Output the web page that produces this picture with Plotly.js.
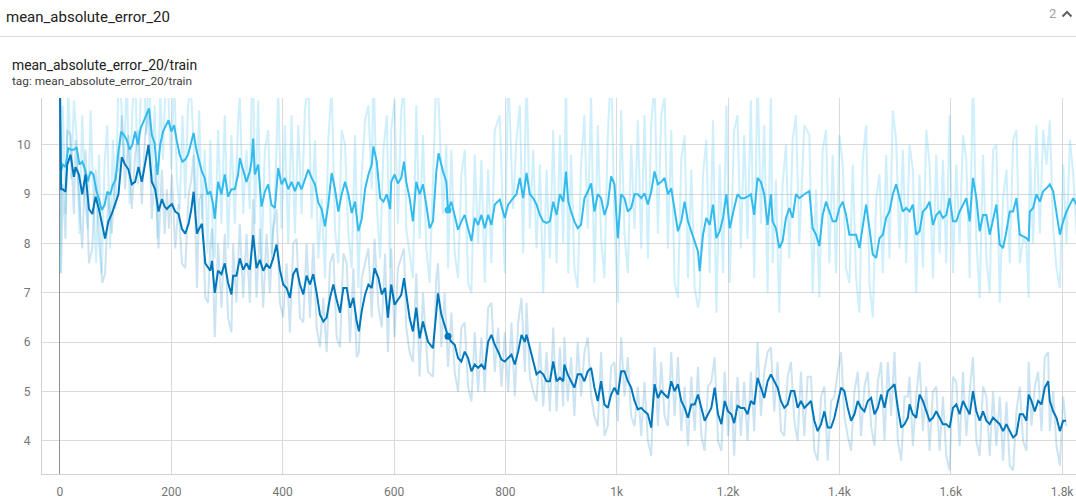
<!DOCTYPE html>
<html>
<head>
<meta charset="utf-8">
<script src="https://cdn.plot.ly/plotly-3.0.1.min.js"></script>
<style>
  html, body { margin:0; padding:0; background:#fff; width:1076px; height:500px; overflow:hidden; font-family: Roboto, "Noto Sans", sans-serif; }
  #plot { position:absolute; left:0; top:0; width:1076px; height:500px; }
  .hdr { position:absolute; left:6px; top:8px; font-size:15px; color:#212121; }
  .sep { position:absolute; left:0; top:36px; width:1076px; height:1px; background:#dcdcdc; }
  .cnt { position:absolute; left:1049px; top:6px; font-size:13px; color:#9e9e9e; }
  .chev { position:absolute; left:1061px; top:9px; }
  .ttl { position:absolute; left:12px; top:57px; font-size:13.9px; color:#212121; }
  .tag { position:absolute; left:12px; top:74px; font-size:11.8px; color:#424242; }
</style>
</head>
<body>
<div id="plot"></div>
<div class="hdr">mean_absolute_error_20</div>
<div class="sep"></div>
<div class="cnt">2</div>
<svg class="chev" width="12" height="10" viewBox="0 0 12 10"><polyline points="1.5,7.5 6,3 10.5,7.5" fill="none" stroke="#616161" stroke-width="2"/></svg>
<div class="ttl">mean_absolute_error_20/train</div>
<div class="tag">tag: mean_absolute_error_20/train</div>
<script>
// ---- data: run A (dark blue) ----
const darkSteps = [
 0,2,5,10,13,19,25,28,34,40,
 46,52,58,64,70,76,81,87,93,99,
 105,111,117,123,129,135,141,147,153,159,
 165,171,177,183,188,192,196,201,207,213,
 219,225,231,236,240,246,250,255,261,266,
 270,273,278,284,290,296,302,308,311,317,
 323,329,335,341,347,353,359,365,371,377,
 383,389,395,401,407,413,419,425,431,437,
 443,449,455,461,467,473,479,485,491,497,
 503,509,515,521,527,533,537,542,548,554,
 560,565,572,578,584,589,595,601,607,613,
 618,622,628,634,640,646,652,661,670,676,
 679,685,691,697,703,709,715,721,727,733,
 739,745,751,757,763,769,775,781,787,793,
 799,805,811,817,823,829,835,838,844,850,
 856,862,868,874,880,886,892,898,904,906,
 912,918,924,930,936,942,948,954,960,966,
 972,978,984,990,996,1002,1008,1014,1020,1026,
 1032,1038,1044,1050,1056,1062,1068,1074,1080,1086,
 1092,1098,1104,1110,1116,1122,1128,1134,1140,1146,
 1152,1158,1164,1170,1176,1182,1188,1194,1200,1206,
 1211,1217,1223,1229,1235,1241,1247,1253,1259,1265,
 1271,1277,1283,1289,1295,1301,1307,1313,1319,1325,
 1331,1337,1343,1349,1355,1361,1367,1373,1379,1385,
 1391,1397,1403,1409,1415,1421,1427,1433,1439,1445,
 1451,1457,1463,1469,1475,1481,1487,1493,1499,1505,
 1511,1517,1523,1526,1532,1538,1544,1550,1556,1562,
 1568,1574,1580,1586,1592,1598,1604,1610,1616,1622,
 1628,1634,1640,1646,1652,1658,1664,1670,1676,1682,
 1688,1694,1700,1706,1712,1718,1724,1730,1736,1740,
 1745,1751,1757,1763,1769,1775,1778,1784,1790,1796,
 1802,1807
];
const darkSmoothed = [
 11.3,9.1,9.1,9.05,9.6,9.8,9.35,9.55,9.4,9.0,
 9.4,8.7,8.6,8.95,8.7,8.35,8.1,8.45,8.6,8.8,
 9.0,9.75,9.6,9.5,9.2,9.25,9.55,9.25,9.6,10.0,
 9.25,9.1,8.65,8.9,8.75,8.7,8.75,8.8,8.65,8.6,
 8.3,8.2,8.4,8.7,9.05,8.2,8.3,8.4,7.6,7.5,
 7.45,7.65,7.0,7.45,7.38,7.6,7.2,6.97,7.35,7.35,
 7.7,7.47,7.6,7.47,8.17,7.5,7.67,7.45,7.58,7.5,
 7.7,7.98,7.47,7.17,7.1,6.9,7.38,7.5,7.17,6.97,
 7.35,7.17,7.38,7.0,6.56,6.42,6.5,6.9,7.17,6.86,
 6.6,7.1,7.1,6.7,6.9,6.42,6.22,6.63,6.97,7.17,
 7.1,7.5,7.3,6.97,7.1,6.5,7.17,6.76,6.86,6.96,
 7.3,6.96,6.49,6.22,6.7,6.08,6.42,6.01,5.88,6.62,
 6.99,6.56,6.35,6.12,6.01,5.95,5.68,5.61,5.81,5.68,
 5.41,5.55,5.48,5.55,5.45,6.01,6.15,5.95,5.81,5.65,
 5.61,5.68,5.75,5.55,5.81,6.15,6.01,6.15,5.88,5.61,
 5.35,5.41,5.35,5.21,5.21,5.61,5.21,5.28,5.21,5.55,
 5.35,5.21,5.08,5.35,5.35,5.21,5.41,5.48,5.08,4.81,
 5.21,4.74,4.67,4.94,5.08,4.94,5.41,5.41,5.21,5.08,
 4.81,4.64,4.67,4.6,4.54,4.27,5.15,4.87,5.01,4.94,
 4.87,5.21,5.01,5.15,4.81,4.67,4.47,4.74,4.74,4.94,
 4.67,4.41,4.54,4.67,5.08,4.54,4.34,4.81,4.6,4.54,
 4.36,4.71,4.67,4.67,4.54,4.81,4.74,5.28,5.08,4.87,
 5.21,5.35,5.21,5.08,4.81,4.67,4.74,5.01,5.01,4.67,
 4.81,4.67,4.74,4.81,4.41,4.2,4.34,4.6,4.27,4.27,
 4.47,4.81,5.08,5.01,4.67,4.41,4.54,4.81,4.67,4.6,
 4.81,4.87,4.54,4.67,4.94,4.67,5.01,5.08,5.15,4.67,
 4.27,4.34,4.47,4.74,4.54,4.47,4.94,4.81,4.6,4.41,
 4.47,4.6,4.47,4.34,4.34,4.27,4.67,4.74,4.54,4.81,
 4.67,4.54,5.01,4.6,4.41,4.6,4.41,4.34,4.47,4.41,
 4.34,4.2,4.34,4.2,4.07,4.13,4.54,4.54,4.41,4.94,
 4.81,4.6,4.81,4.74,5.08,5.21,4.81,4.6,4.47,4.2,
 4.41,4.41
];
const darkRaw = [
 11.3,7.4,9.2,8.1,10.3,10.2,8.6,10.1,9.0,7.9,
 9.9,7.6,7.9,9.5,8.1,7.2,7.4,9.0,8.2,9.4,
 9.5,10.6,9.1,10.2,8.7,9.8,10.3,8.8,10.2,10.7,
 8.5,9.6,7.9,9.5,8.2,9.1,8.3,9.4,7.9,8.8,
 7.6,7.5,9.0,9.3,9.8,7.1,8.9,9.0,6.9,6.8,
 8.0,8.3,6.1,8.0,6.7,8.2,6.5,6.2,8.0,6.8,
 8.4,6.9,8.2,6.8,8.9,6.9,8.3,6.7,8.2,7.0,
 8.3,8.7,6.8,6.5,7.6,6.2,8.0,8.1,6.5,6.4,
 8.0,6.5,8.0,6.3,5.9,6.9,5.8,7.6,7.8,6.1,
 5.9,7.8,7.6,6.0,7.5,5.7,5.8,7.3,7.6,7.9,
 6.5,8.1,6.7,6.3,7.8,5.8,7.9,6.1,7.5,7.7,
 7.9,6.3,5.8,5.6,7.4,5.3,7.0,5.4,5.3,7.3,
 7.6,5.9,7.0,5.5,6.6,5.4,5.0,6.3,6.4,5.1,
 4.8,6.2,5.0,6.1,5.0,6.7,6.8,5.4,6.3,5.1,
 6.2,5.0,6.4,4.9,6.4,6.9,5.4,6.8,5.3,5.0,
 4.8,6.0,4.7,5.8,4.6,6.3,4.6,5.9,4.7,6.1,
 4.8,5.7,4.5,6.0,4.9,5.8,6.1,4.9,4.5,4.3,
 5.8,4.1,4.3,5.5,5.6,4.4,6.1,4.9,5.7,4.5,
 4.3,5.1,4.1,5.2,4.0,3.7,5.9,4.3,5.6,4.5,
 4.3,5.8,4.5,5.7,4.2,5.1,3.9,5.3,4.2,5.5,
 4.1,3.8,5.1,5.2,5.7,4.0,3.8,5.4,4.1,5.0,
 3.7,5.3,4.1,5.2,4.0,5.4,4.2,6.0,4.5,5.4,
 5.8,5.9,4.6,5.6,4.2,4.1,5.3,5.6,4.4,4.0,
 5.4,4.1,5.3,5.3,3.8,3.6,4.9,5.1,3.6,4.8,
 4.9,5.4,5.8,4.5,4.1,3.8,5.0,5.4,4.1,5.1,
 5.4,4.3,3.9,5.2,5.6,4.0,5.6,4.5,5.8,4.0,
 3.6,4.9,4.9,5.3,3.9,4.9,5.6,4.2,5.1,3.8,
 5.0,5.1,3.8,4.9,3.7,3.4,5.3,5.2,3.9,5.4,
 4.1,5.0,5.7,4.0,3.7,5.1,4.9,3.7,5.0,3.9,
 4.9,3.6,4.8,3.5,3.4,4.6,5.1,4.0,3.8,5.6,
 4.3,5.1,5.4,4.2,5.7,5.8,4.2,5.0,3.9,3.5,
 4.9,4.3
];

// ---- data: run B (light blue) ----
const lightSteps = [
 0,5,10,15,20,25,30,35,40,45,
 50,55,60,65,70,75,80,85,90,95,
 100,105,110,115,120,125,130,135,140,145,
 150,155,160,165,170,175,180,185,190,195,
 200,205,210,215,220,225,230,235,240,245,
 250,255,260,265,270,275,278,284,290,296,
 302,308,314,320,323,329,335,341,344,347,
 350,356,362,368,374,380,386,392,398,404,
 410,416,422,428,434,440,446,452,458,464,
 470,476,482,488,494,500,506,512,518,524,
 530,536,542,548,554,560,563,569,575,581,
 587,593,595,601,607,613,618,622,628,634,
 640,646,652,658,664,670,676,680,688,694,
 697,703,709,715,721,727,733,739,745,751,
 757,763,769,775,781,790,799,805,814,820,
 826,832,838,844,850,856,862,868,874,880,
 886,892,898,904,909,913,918,924,930,936,
 942,948,954,960,966,972,978,984,990,996,
 1002,1008,1014,1020,1026,1032,1038,1044,1050,1056,
 1062,1068,1074,1080,1086,1092,1098,1104,1110,1116,
 1122,1128,1134,1140,1146,1149,1155,1161,1167,1173,
 1179,1185,1191,1197,1203,1211,1217,1223,1229,1235,
 1241,1247,1253,1259,1265,1271,1277,1280,1286,1292,
 1298,1304,1310,1316,1322,1328,1337,1346,1352,1358,
 1364,1370,1376,1382,1388,1394,1400,1406,1412,1418,
 1424,1430,1436,1442,1448,1454,1460,1466,1472,1478,
 1484,1490,1496,1502,1508,1514,1520,1526,1532,1538,
 1544,1550,1556,1562,1568,1574,1580,1586,1592,1598,
 1604,1610,1616,1622,1628,1634,1640,1646,1652,1658,
 1664,1670,1676,1682,1688,1694,1700,1706,1712,1718,
 1724,1730,1736,1740,1742,1748,1754,1760,1766,1772,
 1778,1784,1790,1796,1802,1808,1814,1820,1826
];
const lightSmoothed = [
 9.4,9.6,9.55,9.93,9.9,9.9,9.95,9.6,9.66,9.5,
 9.26,9.46,9.4,9.09,8.9,8.68,8.78,9.05,8.99,9.19,
 9.3,9.87,10.27,10.2,10.1,9.9,10.0,10.27,10.0,10.34,
 10.47,10.6,10.74,10.2,10.03,9.39,10.0,10.27,10.4,10.5,
 10.27,10.4,10.07,9.8,9.66,9.7,9.8,10.0,10.24,9.9,
 9.66,9.45,9.33,8.99,9.06,8.8,8.5,9.25,9.0,9.4,
 8.95,9.1,9.1,9.4,9.73,9.46,9.25,9.46,9.66,10.13,
 9.4,9.6,8.75,9.05,9.2,8.78,8.72,9.53,9.2,9.33,
 9.1,9.25,9.06,9.25,9.1,9.3,9.5,9.33,9.2,8.83,
 8.7,8.35,8.8,9.43,9.1,8.65,9.0,9.25,9.0,8.62,
 8.85,8.25,8.5,9.1,9.4,9.6,9.97,9.66,8.92,8.85,
 9.0,8.7,9.25,9.4,9.22,9.33,9.66,9.25,8.92,8.45,
 9.25,9.0,9.2,8.79,8.31,8.45,9.46,9.83,9.46,9.25,
 8.68,8.85,8.58,8.28,8.45,8.58,8.31,8.05,8.52,8.38,
 8.58,8.31,8.58,8.38,8.79,8.89,8.52,8.79,8.92,9.0,
 9.33,8.92,9.43,9.0,8.92,8.79,8.58,8.45,8.42,8.45,
 8.85,8.58,9.0,8.85,9.46,8.85,8.65,8.45,8.31,8.38,
 8.92,9.05,9.22,8.65,9.0,8.92,8.58,8.79,9.36,9.2,
 8.11,9.0,8.92,8.65,8.72,9.0,9.0,8.92,9.02,8.79,
 9.05,9.46,9.2,9.25,9.33,9.0,9.12,8.65,8.25,8.45,
 8.85,8.45,8.25,8.05,7.84,7.44,8.18,8.52,8.38,8.79,
 8.11,8.25,8.52,9.0,8.31,8.72,9.0,8.92,8.92,8.95,
 9.0,8.58,9.33,9.25,9.0,8.38,9.0,8.45,8.31,7.91,
 8.05,8.52,8.72,8.52,9.0,8.92,9.0,9.06,8.31,8.18,
 7.95,8.58,8.85,8.65,8.45,8.45,8.72,8.85,8.58,8.18,
 8.18,8.18,7.91,8.38,8.79,8.31,7.78,7.71,8.11,8.18,
 8.52,8.65,9.0,9.2,8.92,8.65,8.72,8.65,8.79,8.18,
 8.25,8.65,8.72,8.85,8.38,8.58,8.65,8.52,8.58,8.92,
 8.45,8.45,8.65,8.79,8.92,8.45,9.33,8.92,8.25,8.58,
 8.58,8.18,8.52,8.79,7.98,7.91,8.25,8.65,8.65,8.92,
 8.18,8.15,8.11,8.05,8.65,8.72,9.0,8.85,9.06,9.12,
 9.2,9.06,8.58,8.18,8.45,8.65,8.79,8.92,8.79
];
const lightRaw = [
 7.4,10.8,8.6,11.2,9.3,10.9,10.1,8.2,10.6,8.9,
 8.3,10.7,8.9,7.6,9.8,7.4,9.6,10.4,7.9,10.1,
 8.7,11.3,10.9,9.6,11.4,8.8,10.7,11.5,9.2,11.0,
 11.6,10.2,11.8,9.3,10.8,8.1,11.1,9.7,11.4,10.9,
 9.5,11.5,9.3,8.7,10.6,8.9,10.8,11.2,10.0,8.6,
 10.7,8.5,9.9,7.8,10.1,8.0,7.7,10.3,8.4,10.6,
 7.9,10.2,8.4,10.5,11.0,8.6,9.9,8.7,10.8,11.6,
 8.4,10.9,7.6,9.9,10.3,7.8,8.9,11.1,8.3,10.4,
 8.0,10.6,8.2,10.4,8.6,10.7,11.3,8.5,10.1,7.7,
 8.9,7.3,10.1,11.2,8.3,7.6,10.3,10.0,8.2,7.5,
 10.2,7.1,9.4,10.5,10.8,9.1,11.7,8.8,7.7,9.9,
 10.6,7.5,10.3,10.9,8.4,10.7,11.2,8.3,7.8,7.3,
 10.8,8.1,10.2,7.9,7.2,9.3,11.4,10.9,8.6,10.0,
 7.5,9.9,7.8,7.3,9.4,9.9,7.2,7.0,9.8,8.0,
 9.7,7.2,9.5,7.6,10.3,10.6,7.4,11.5,8.7,10.1,
 10.8,7.8,11.6,8.3,9.9,7.9,9.6,7.0,9.5,7.7,
 10.3,7.6,10.2,8.0,11.4,7.4,9.8,7.5,7.1,9.6,
 10.6,8.3,11.0,7.2,10.4,8.1,7.3,10.2,11.6,8.4,
 6.8,10.7,8.2,7.4,10.0,8.3,10.5,7.9,10.6,7.7,
 10.4,11.3,8.2,10.6,11.0,7.9,10.3,7.2,6.9,9.7,
 10.2,7.3,9.5,7.1,6.7,6.9,9.4,10.1,7.4,10.5,
 6.6,9.6,7.4,10.8,7.2,10.3,10.6,7.9,10.2,8.1,
 10.9,7.3,11.5,8.4,10.4,7.0,11.2,7.6,9.3,6.6,
 9.2,10.0,7.7,10.1,10.6,8.0,10.4,10.2,7.0,9.1,
 6.9,9.9,10.3,7.6,9.8,7.4,10.2,9.6,7.5,7.2,
 9.6,7.3,6.6,9.7,10.4,7.2,6.5,8.9,9.4,7.4,
 9.8,7.7,10.7,10.1,7.9,9.9,7.6,10.0,9.5,7.0,
 9.4,7.5,10.3,9.6,7.3,9.8,7.8,9.7,7.6,10.6,
 7.4,9.6,8.0,10.2,9.7,7.3,11.6,8.1,6.9,9.8,
 7.7,7.0,9.9,10.0,6.8,8.9,9.5,7.6,10.1,10.3,
 7.6,8.1,8.0,6.9,10.0,8.0,10.4,8.2,10.3,9.6,
 10.5,8.3,7.5,7.1,9.6,8.0,10.1,9.4,8.2
];

// axis ticks
const xTickVals = [0,200,400,600,800,1000,1200,1400,1600,1800];
const xTickText = ['0','200','400','600','800','1k','1.2k','1.4k','1.6k','1.8k'];
const yTickVals = [4,5,6,7,8,9,10];
const yTickText = ['4','5','6','7','8','9','10'];
const hoverStep = 697;

const DARK = '#0077bb', LIGHT = '#33bbee';
const iD = darkSteps.indexOf(hoverStep), iL = lightSteps.indexOf(hoverStep);

const traces = [
  {x: lightSteps, y: lightRaw, type:'scatter', mode:'lines', line:{color:'rgba(51,187,238,0.24)', width:2}, hoverinfo:'skip'},
  {x: darkSteps, y: darkRaw, type:'scatter', mode:'lines', line:{color:'rgba(0,119,187,0.2)', width:2}, hoverinfo:'skip'},
  {x: lightSteps, y: lightSmoothed, type:'scatter', mode:'lines', line:{color:LIGHT, width:2}},
  {x: darkSteps, y: darkSmoothed, type:'scatter', mode:'lines', line:{color:DARK, width:2}},
  {x: [lightSteps[iL]], y: [lightSmoothed[iL]], type:'scatter', mode:'markers', marker:{color:LIGHT, size:7}},
  {x: [darkSteps[iD]], y: [darkSmoothed[iD]], type:'scatter', mode:'markers', marker:{color:DARK, size:7}}
];

const axFont = {family:'Roboto, sans-serif', size:12, color:'#757575'};
const layout = {
  width:1076, height:500,
  margin:{l:42, r:0, t:98, b:26, pad:0},
  paper_bgcolor:'rgba(0,0,0,0)', plot_bgcolor:'#ffffff',
  showlegend:false,
  hovermode:false,
  xaxis:{range:[-32.3,1825], tickmode:'array', tickvals:xTickVals, ticktext:xTickText,
         showgrid:true, gridcolor:'#dadada', gridwidth:1,
         zeroline:true, zerolinecolor:'#8f8f8f', zerolinewidth:1,
         showline:true, linecolor:'#d0d0d0', linewidth:1,
         ticks:'outside', ticklen:7, tickcolor:'rgba(0,0,0,0)',
         tickfont:axFont, automargin:false, fixedrange:true},
  yaxis:{range:[3.33,10.95], tickmode:'array', tickvals:yTickVals, ticktext:yTickText,
         showgrid:true, gridcolor:'#dadada', gridwidth:1, zeroline:false,
         showline:true, linecolor:'#d0d0d0', linewidth:1,
         ticks:'outside', ticklen:8, tickcolor:'rgba(0,0,0,0)',
         tickfont:axFont, automargin:false, fixedrange:true}
};
Plotly.newPlot('plot', traces, layout, {displayModeBar:false, staticPlot:true});
</script>
</body>
</html>
